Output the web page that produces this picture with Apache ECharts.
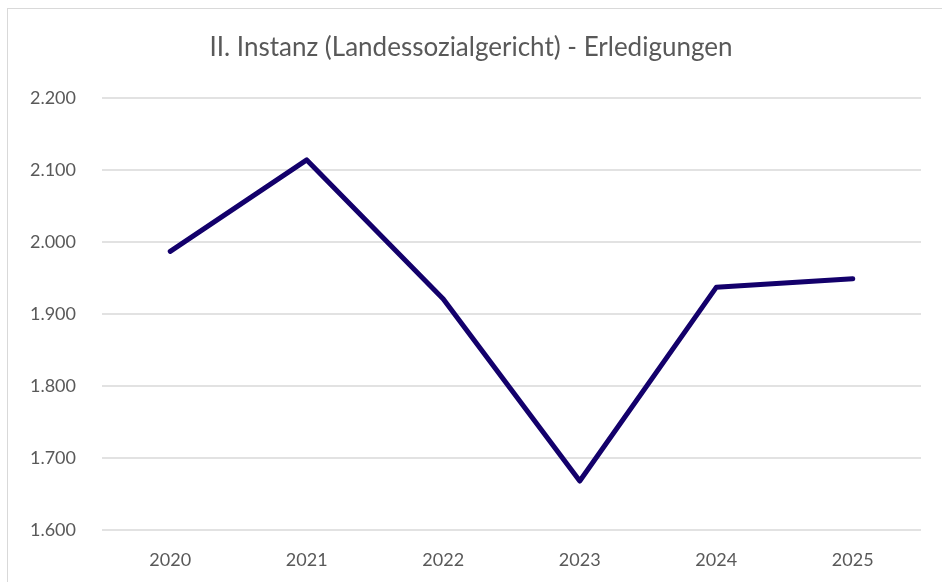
<!DOCTYPE html>
<html>
<head>
<meta charset="utf-8">
<script src="https://cdn.jsdelivr.net/npm/echarts@6/dist/echarts.min.js"></script>
<style>
  html, body { margin: 0; padding: 0; background: #ffffff; }
  #frame {
    position: absolute; left: 7px; top: 8px; width: 960px; height: 600px;
    border: 1px solid #d9d9d9; box-sizing: border-box;
  }
  #chart { position: absolute; left: 0; top: 0; width: 942px; height: 582px; }
</style>
</head>
<body>
<div id="frame"></div>
<div id="chart"></div>
<script>
const years = ["2020", "2021", "2022", "2023", "2024", "2025"];
const erledigungen = [1987, 2114, 1921, 1668, 1937, 1949];

const myChart = echarts.init(document.getElementById("chart"));

// Zahlen mit Tausenderpunkt
function fmt(v) {
  return String(v).replace(/\B(?=(\d{3})+(?!\d))/g, ".");
}

const option = {
  backgroundColor: "transparent",
  animation: false,
  title: {
    text: "II. Instanz (Landessozialgericht) - Erledigungen",
    left: "center",
    top: 30,
    textStyle: {
      fontFamily: "Lato",
      fontWeight: "normal",
      fontSize: 26,
      color: "#595959",
    },
  },
  grid: {
    left: 102,
    right: 21,
    top: 98,
    bottom: 52,
  },
  xAxis: {
    type: "category",
    data: years,
    boundaryGap: true,
    axisLine: { show: false },
    axisTick: { show: false },
    axisLabel: {
      margin: 21,
      fontFamily: "Lato",
      fontSize: 18,
      color: "#595959",
    },
  },
  yAxis: {
    type: "value",
    min: 1600,
    max: 2200,
    interval: 100,
    axisLine: { show: false },
    axisTick: { show: false },
    axisLabel: {
      margin: 26,
      fontFamily: "Lato",
      fontSize: 18,
      color: "#595959",
      formatter: fmt,
    },
    splitLine: {
      lineStyle: { color: "#d9d9d9", width: 1.5 },
    },
  },
  series: [
    {
      type: "line",
      data: erledigungen,
      symbol: "none",
      lineStyle: {
        color: "#13006b",
        width: 5,
        cap: "round",
        join: "round",
      },
    },
  ],
};

myChart.setOption(option);
</script>
</body>
</html>
